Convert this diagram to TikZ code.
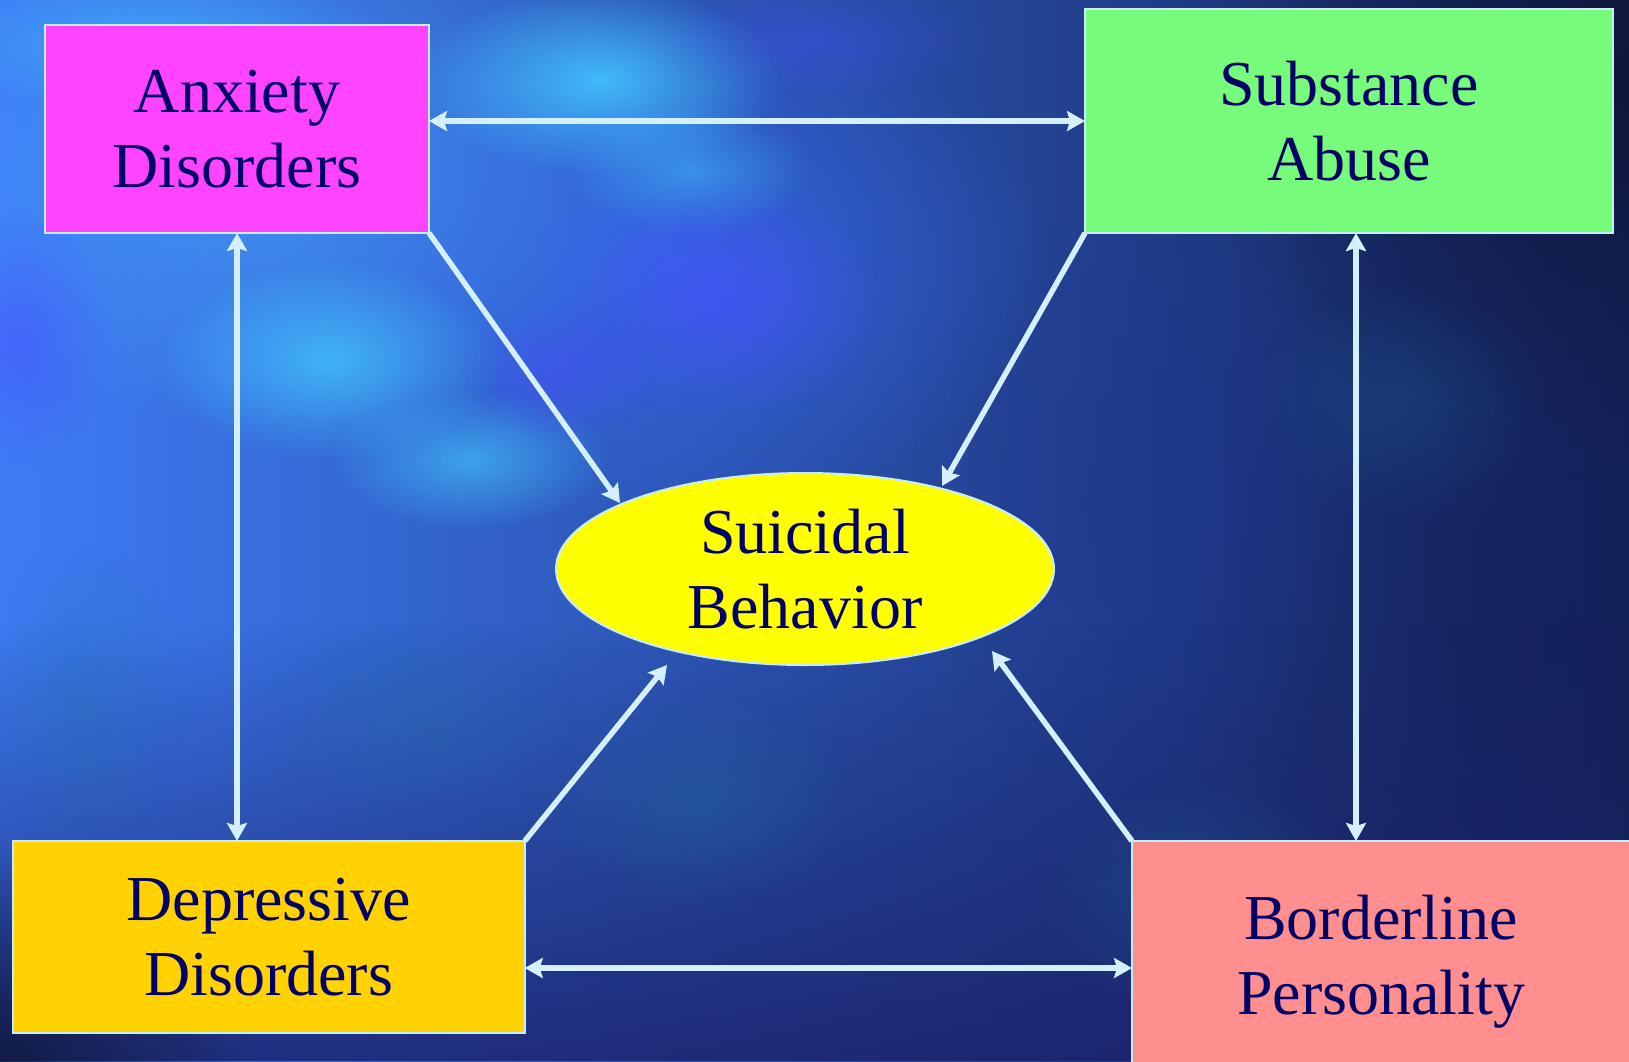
\documentclass[tikz,border=0pt]{standalone}
\usepackage{fontspec}
\setmainfont{Liberation Serif}
\usetikzlibrary{arrows.meta,shapes.geometric,fadings}
\definecolor{anxfill}{HTML}{FF44FF}
\definecolor{subfill}{HTML}{77FB7B}
\definecolor{depfill}{HTML}{FFD200}
\definecolor{borfill}{HTML}{FF8E8E}
\definecolor{suifill}{HTML}{FFFF00}
\definecolor{edgec}{HTML}{C8ECFF}
\definecolor{linec}{HTML}{D4F0FF}
\definecolor{txtc}{HTML}{000066}
\definecolor{bgL}{HTML}{3E7CF6}
\definecolor{bgM}{HTML}{3466EE}
\definecolor{bgR}{HTML}{14225A}
\definecolor{bgNight}{HTML}{0E1636}
\definecolor{bgDeep}{HTML}{1A2068}
\definecolor{cyanb}{HTML}{42C4FF}
\definecolor{skyb}{HTML}{4AA8FF}
\definecolor{brightb}{HTML}{3A6EFF}
\definecolor{violb}{HTML}{4A50FF}
\definecolor{tealb}{HTML}{2070A0}
\definecolor{midb}{HTML}{1E3590}
\tikzfading[name=fuzzy, inner color=transparent!0, outer color=transparent!100]
\tikzset{
  txt/.style={text=txtc, align=center, font=\fontsize{64}{75}\selectfont},
  box/.style={rectangle, draw=edgec, line width=2pt, inner sep=0pt, outer sep=0pt, txt},
  oval/.style={ellipse, draw=edgec, line width=2pt, inner sep=0pt, outer sep=0pt, txt, fill=suifill},
  conn/.style={draw=linec, line width=5.5pt,
    >={Stealth[length=18pt,width=20pt,inset=3pt]}},
  blob/.style={path fading=fuzzy}
}
\begin{document}
\begin{tikzpicture}[x=1pt,y=-1pt]
\useasboundingbox (0,0) rectangle (1629,1061);
\clip (0,0) rectangle (1629,1061);
% background
\shade[left color=bgL, middle color=bgM, right color=bgR] (0,0) rectangle (1629,1061);
\fill[skyb, blob, opacity=0.6] (280,170) ellipse (420 and 260);
\fill[brightb, blob, opacity=0.6] (680,260) ellipse (380 and 260);
\fill[bgNight, blob, opacity=0.9] (1629,80) ellipse (430 and 400);
\fill[bgR, blob, opacity=0.7] (1560,620) ellipse (380 and 520);
\fill[midb, blob, opacity=0.5] (1150,500) ellipse (240 and 300);
\fill[cyanb, blob, opacity=0.9] (600,80) ellipse (180 and 95);
\fill[cyanb, blob, opacity=0.5] (150,40) ellipse (230 and 70);
\fill[cyanb, blob, opacity=0.8] (330,360) ellipse (170 and 100);
\fill[cyanb, blob, opacity=0.65] (470,460) ellipse (140 and 70);
\fill[cyanb, blob, opacity=0.5] (690,170) ellipse (120 and 65);
\fill[violb, blob, opacity=0.6] (720,300) ellipse (170 and 120);
\fill[violb, blob, opacity=0.5] (560,370) ellipse (100 and 70);
\fill[violb, blob, opacity=0.5] (20,340) ellipse (90 and 130);
\fill[violb, blob, opacity=0.35] (820,40) ellipse (170 and 60);
\fill[bgDeep, path fading=north, opacity=0.8] (0,620) rectangle (1629,1061);
\fill[bgNight, blob, opacity=0.8] (0,1061) ellipse (260 and 210);
\fill[tealb, blob, opacity=0.35] (700,800) ellipse (160 and 110);
\fill[tealb, blob, opacity=0.3] (1200,900) ellipse (160 and 120);
\fill[tealb, blob, opacity=0.3] (420,720) ellipse (160 and 100);
\fill[tealb, blob, opacity=0.3] (80,700) ellipse (110 and 160);
\fill[tealb, blob, opacity=0.25] (1400,400) ellipse (150 and 120);
% nodes
\node[box, fill=anxfill, minimum width=384pt, minimum height=208pt] (anx) at (237,129) {Anxiety\\Disorders};
\node[box, fill=subfill, minimum width=528pt, minimum height=224pt] (sub) at (1349,121) {Substance\\Abuse};
\node[box, fill=depfill, minimum width=512pt, minimum height=192pt] (dep) at (268.75,937) {Depressive\\Disorders};
\node[box, fill=borfill, minimum width=498pt, minimum height=241pt] (bor) at (1381,961.5) {Borderline\\Personality};
\node[oval, minimum width=498pt, minimum height=192pt] (sui) at (805,569) {Suicidal\\Behavior};
% helper coordinates
\coordinate (hb) at (0,968);
\coordinate (vx) at (1356,0);
\coordinate (ta) at (620,503);
\coordinate (ts) at (942,486);
\coordinate (td) at (667,665);
\coordinate (tb) at (992,651);
% connectors
\draw[conn, <->] (anx.east |- sub.west) -- (sub.west);
\draw[conn, <->] (anx.south) -- (anx.south |- dep.north);
\draw[conn, <->] (sub.south -| vx) -- (bor.north -| vx);
\draw[conn, <->] (dep.east |- hb) -- (bor.west |- hb);
\draw[conn, ->] (anx.south east) -- (ta);
\draw[conn, ->] (sub.south west) -- (ts);
\draw[conn, ->] (dep.north east) -- (td);
\draw[conn, ->] (bor.north west) -- (tb);
\end{tikzpicture}
\end{document}
